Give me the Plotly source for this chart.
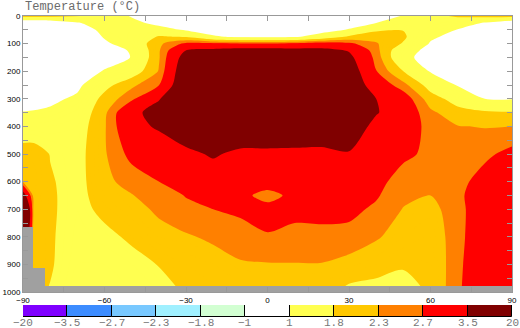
import plotly.graph_objects as go

# ---------------- data ----------------
lat = [-90, -86, -80, -70, -60, -50, -40, -30, -20, -10, 0, 10, 20, 30, 40, 50, 60, 70, 80, 90]
pressure = [0, 25, 50, 75, 100, 125, 150, 200, 250, 300, 350, 400, 500, 600, 650, 700, 800, 900, 1000]

# temperature change (deg C) per latitude column, top (0 hPa) to bottom (1000 hPa)
t_s90 = [2.0, 0.4, 0.3, 0.3, 0.3, 0.3, 0.3, 0.35, 0.5, 0.75, 1.02, 1.4, 2.07, 2.25, 4.0, 6.0, 5.0, 3.0, 2.5]
t_s86 = [2.0, 0.4, 0.3, 0.3, 0.3, 0.3, 0.3, 0.35, 0.5, 0.75, 1.05, 1.4, 2.07, 2.15, 2.1, 2.1, 2.0, 2.0, 1.9]
t_s80 = [1.95, 0.5, 0.35, 0.3, 0.3, 0.3, 0.3, 0.4, 0.6, 0.85, 1.12, 1.4, 1.78, 1.85, 1.87, 1.87, 1.86, 1.85, 1.77]
t_s70 = [1.85, 0.95, 0.6, 0.5, 0.45, 0.45, 0.45, 0.6, 0.85, 1.12, 1.35, 1.5, 1.6, 1.6, 1.6, 1.6, 1.55, 1.5, 1.4]
t_s60 = [1.4, 1.3, 1.2, 1.05, 0.9, 0.75, 0.7, 1.05, 1.6, 2.0, 2.2, 2.25, 2.25, 2.2, 2.1, 1.95, 1.65, 1.5, 1.45]
t_s50 = [0.95, 1.2, 1.3, 1.35, 1.3, 1.05, 1.02, 1.45, 2.2, 2.6, 3.3, 3.25, 2.85, 2.45, 2.28, 2.2, 1.9, 1.6, 1.5]
t_s40 = [0.6, 0.8, 1.3, 1.85, 2.2, 2.25, 2.25, 2.33, 2.68, 3.45, 3.8, 3.6, 3.0, 2.7, 2.5, 2.35, 2.2, 1.82, 1.6]
t_s30 = [0.4, 0.6, 0.92, 1.75, 2.8, 3.52, 3.9, 4.2, 4.3, 4.3, 4.25, 4.1, 3.3, 2.9, 2.72, 2.6, 2.25, 2.0, 1.85]
t_s20 = [0.35, 0.45, 0.65, 1.1, 2.8, 3.7, 4.1, 4.5, 4.6, 4.6, 4.5, 4.3, 3.6, 3.0, 2.8, 2.7, 2.38, 2.1, 1.95]
t_s10 = [0.3, 0.35, 0.5, 0.85, 2.75, 3.85, 4.3, 4.6, 4.7, 4.7, 4.6, 4.3, 3.3, 2.9, 2.78, 2.77, 2.55, 2.25, 2.0]
t_eq = [0.3, 0.35, 0.5, 0.85, 2.7, 3.9, 4.3, 4.6, 4.7, 4.7, 4.6, 4.3, 3.3, 2.85, 2.6, 2.8, 2.68, 2.27, 2.0]
t_n10 = [0.3, 0.35, 0.5, 0.9, 2.8, 3.8, 4.2, 4.5, 4.6, 4.6, 4.5, 4.2, 3.3, 2.9, 2.78, 2.8, 2.6, 2.28, 2.05]
t_n20 = [0.35, 0.45, 0.7, 1.35, 2.95, 3.75, 4.1, 4.4, 4.5, 4.5, 4.4, 4.1, 3.3, 3.0, 2.9, 2.82, 2.6, 2.28, 2.0]
t_n30 = [0.5, 0.7, 1.05, 1.9, 2.8, 3.45, 3.7, 4.0, 4.1, 4.1, 4.05, 3.95, 3.45, 3.0, 2.9, 2.82, 2.56, 2.15, 1.65]
t_n40 = [0.6, 1.0, 1.7, 2.1, 2.35, 2.45, 2.55, 2.72, 3.1, 3.5, 3.55, 3.3, 3.05, 2.85, 2.75, 2.62, 2.35, 2.0, 1.6]
t_n50 = [1.05, 1.4, 1.78, 1.9, 1.75, 1.3, 1.2, 1.8, 2.45, 3.0, 3.1, 3.1, 2.8, 2.5, 2.4, 2.28, 2.1, 1.85, 1.6]
t_n60 = [1.6, 1.5, 1.3, 1.1, 0.95, 0.8, 0.7, 0.95, 1.55, 2.05, 2.4, 2.5, 2.6, 2.4, 2.3, 2.15, 2.0, 1.9, 1.85]
t_n70 = [1.9, 1.3, 0.98, 0.8, 0.65, 0.55, 0.5, 0.6, 0.95, 1.55, 2.0, 2.32, 2.55, 2.55, 2.6, 2.55, 2.55, 2.6, 2.65]
t_n80 = [2.0, 0.95, 0.6, 0.45, 0.4, 0.35, 0.35, 0.4, 0.6, 1.0, 1.9, 2.28, 2.6, 2.9, 3.0, 3.05, 3.1, 3.1, 3.0]
t_n90 = [2.0, 0.5, 0.35, 0.3, 0.3, 0.3, 0.3, 0.35, 0.55, 0.97, 1.85, 2.3, 2.85, 3.1, 3.15, 3.2, 3.2, 3.2, 3.1]

temp_columns = [t_s90, t_s86, t_s80, t_s70, t_s60, t_s50, t_s40, t_s30, t_s20, t_s10,
                t_eq, t_n10, t_n20, t_n30, t_n40, t_n50, t_n60, t_n70, t_n80, t_n90]

# ground (missing data) blocks: west/east latitude and top pressure, down to 1000 hPa
ground_lat_west = [-90, -90, -90]
ground_lat_east = [-86.4, -82, 90]
ground_p_top = [764, 913, 978]
p_surface = 1000

# colour bar
cbar_labels = ["\u221220", "\u22123.5", "\u22122.7", "\u22122.3", "\u22121.8", "\u22121",
               "1", "1.8", "2.3", "2.7", "3.5", "20"]
cbar_colors = ["#7F00FF", "#3C8CFF", "#78C8FF", "#A0F0FF", "#D2FFD2", "#FFFFFF",
               "#FFFF50", "#FFC800", "#FF8000", "#FF0000", "#800000"]
pos_bounds = [1.0, 1.8, 2.3, 2.7, 3.5]          # positive thresholds present in the field
pos_colors = ["#FFFFFF", "#FFFF50", "#FFC800", "#FF8000", "#FF0000", "#800000"]

x_ticks = [-90, -75, -60, -45, -30, -15, 0, 15, 30, 45, 60, 75, 90]
y_ticks = list(range(0, 1001, 50))

# ---------------- build ----------------
z = [list(row) for row in zip(*temp_columns)]

c_start, c_end, c_size = 1.0, 3.5, 0.1
lo = c_start - c_size / 2
hi = c_end + c_size / 2
def norm(v):
    return (v - lo) / (hi - lo)

colorscale = []
edges = [lo] + pos_bounds + [hi]
for i, col in enumerate(pos_colors):
    colorscale.append([max(0.0, norm(edges[i])), col])
    colorscale.append([min(1.0, norm(edges[i + 1])), col])

fig = go.Figure()
fig.add_trace(go.Contour(
    x=lat, y=pressure, z=z,
    autocontour=False,
    contours=dict(start=c_start, end=c_end, size=c_size, coloring="fill", showlines=False),
    line=dict(width=0, smoothing=0.8),
    colorscale=colorscale, showscale=False, hoverinfo="skip",
    xaxis="x", yaxis="y",
))
# ground mask as bars (drawn above the contour layer)
fig.add_trace(go.Bar(
    x=[(w + e) / 2 for w, e in zip(ground_lat_west, ground_lat_east)],
    width=[e - w for w, e in zip(ground_lat_west, ground_lat_east)],
    base=ground_p_top,
    y=[p_surface - p for p in ground_p_top],
    marker=dict(color="#A0A0A0", line=dict(width=0)),
    xaxis="x", yaxis="y", hoverinfo="skip", showlegend=False,
))
fig.add_trace(go.Bar(
    x=[i + 0.5 for i in range(len(cbar_colors))], y=[1] * len(cbar_colors), width=1,
    marker=dict(color=cbar_colors, line=dict(color="black", width=1)),
    xaxis="x2", yaxis="y2", hoverinfo="skip", showlegend=False,
))

W, H = 520, 328
ml, mr, mt, mb = 23, 8, 16, 4
ph = H - mt - mb
def yfrac(py):
    return (H - mb - py) / ph

axis_gray = "#999999"
tickfont = dict(family="Liberation Sans", size=8, color="black")

annotations = [dict(text="Temperature (\u00b0C)", x=0, y=1, xref="paper", yref="paper",
                    xanchor="left", yanchor="bottom", showarrow=False,
                    font=dict(family="Liberation Mono", size=12, color="#6b6b6b"))]
for i, lab in enumerate(cbar_labels):
    annotations.append(dict(text=lab, x=i, xref="x2", y=yfrac(317), yref="paper",
                            xanchor="center", yanchor="top", showarrow=False, yshift=1,
                            borderpad=0,
                            font=dict(family="Liberation Mono", size=11, color="#777777")))

fig.update_layout(
    width=W, height=H,
    margin=dict(l=ml, r=mr, t=mt, b=mb),
    paper_bgcolor="white", plot_bgcolor="white",
    showlegend=False, bargap=0, barmode="overlay",
    xaxis=dict(domain=[0, 1], range=[-90, 90], tickmode="array", tickvals=x_ticks,
               ticktext=[("\u2212%d" % -v if v < 0 else str(v)) if v % 30 == 0 else "" for v in x_ticks],
               ticks="inside", ticklen=5, tickcolor=axis_gray, showline=True, linecolor=axis_gray,
               linewidth=1, mirror="ticks", showgrid=False, zeroline=False, tickfont=tickfont,
               anchor="y", automargin=False, layer="above traces"),
    yaxis=dict(domain=[yfrac(292), 1], range=[1000, 0], tickmode="array", tickvals=y_ticks,
               ticktext=[str(v) if v % 100 == 0 else "" for v in y_ticks],
               ticks="inside", ticklen=5, tickcolor=axis_gray, showline=True, linecolor=axis_gray,
               linewidth=1, mirror="ticks", showgrid=False, zeroline=False, tickfont=tickfont,
               anchor="x", automargin=False, layer="above traces"),
    xaxis2=dict(domain=[0, 1], range=[0, 11], showticklabels=False, ticks="",
                showline=False, showgrid=False, zeroline=False, anchor="y2", automargin=False),
    yaxis2=dict(domain=[yfrac(317), yfrac(305)], range=[0, 1], showticklabels=False, ticks="",
                showgrid=False, zeroline=False, showline=False, anchor="x2", automargin=False),
    annotations=annotations,
)

fig.write_html("out.html")
